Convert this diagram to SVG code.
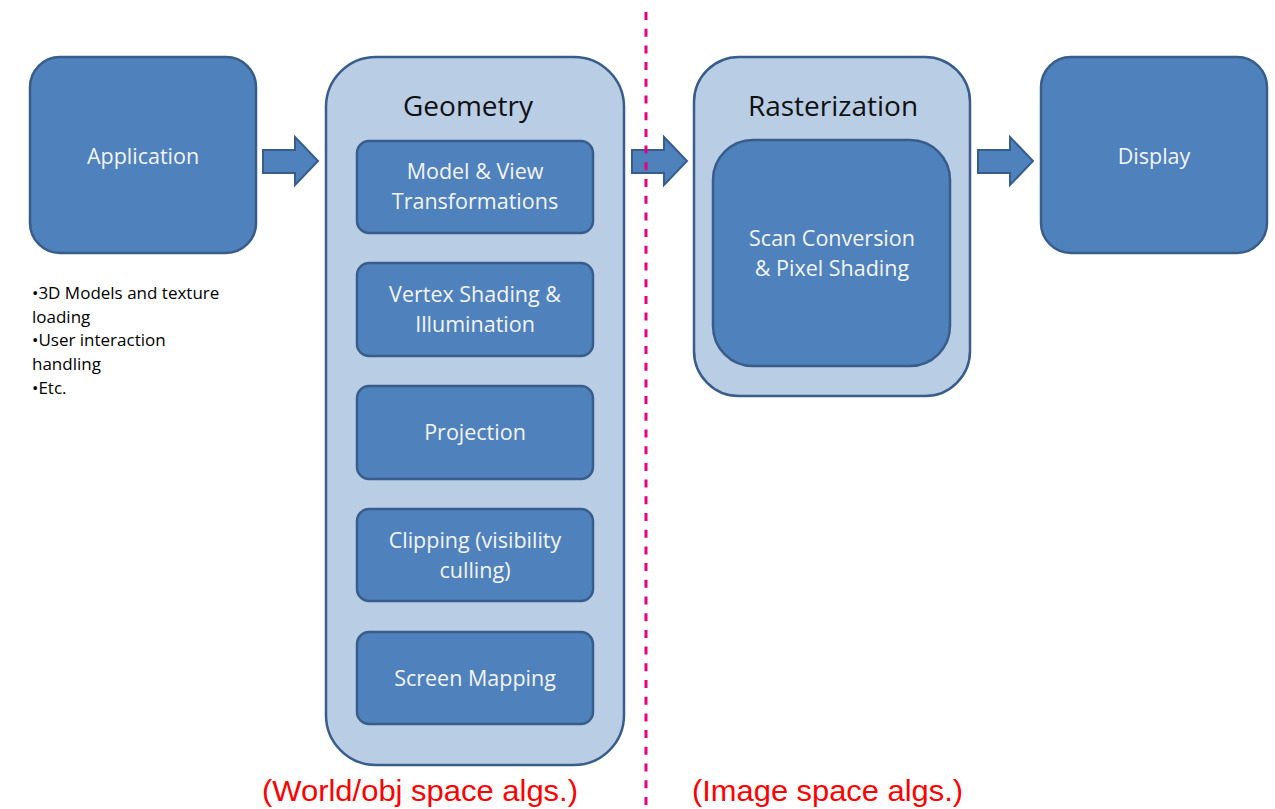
<svg xmlns="http://www.w3.org/2000/svg" width="1275" height="809" viewBox="0 0 1275 809">
<style>
.box{fill:#4f81bd;stroke:#385d8a;stroke-width:2.5}
.outer{fill:#b9cde5;stroke:#385d8a;stroke-width:2.5}
.arrow{fill:#4f81bd;stroke:#385d8a;stroke-width:2}
.wt{fill:#f4f4f4;font-family:"Open Sans",sans-serif;font-size:21.5px;text-anchor:middle}
.title{fill:#111;font-family:"Open Sans",sans-serif;font-size:28px;text-anchor:middle}
.note{fill:#000;font-family:"Open Sans",sans-serif;font-size:17px}
.red{fill:#ff0000;font-family:"Liberation Sans",sans-serif;font-size:30px}
</style>
<rect width="1275" height="809" fill="#fff"/>
<g id="application">
<rect class="box" x="30" y="57" width="226" height="196" rx="30"/>
<text class="wt" x="143" y="164">Application</text>
</g>
<g id="app-notes">
<text class="note" x="32" y="299">•3D Models and texture</text>
<text class="note" x="32" y="323">loading</text>
<text class="note" x="32" y="346">•User interaction</text>
<text class="note" x="32" y="370">handling</text>
<text class="note" x="32" y="394">•Etc.</text>
</g>
<g id="geometry">
<rect class="outer" x="326" y="57" width="298" height="708" rx="50"/>
<text class="title" x="468" y="116">Geometry</text>
</g>
<g id="model-view">
<rect class="box" x="357" y="141" width="236" height="92" rx="12"/>
<text class="wt" x="475" y="179">Model &amp; View</text>
<text class="wt" x="475" y="209">Transformations</text>
</g>
<g id="vertex-shading">
<rect class="box" x="357" y="263" width="236" height="93" rx="12"/>
<text class="wt" x="475" y="302">Vertex Shading &amp;</text>
<text class="wt" x="475" y="332">Illumination</text>
</g>
<g id="projection">
<rect class="box" x="357" y="386" width="236" height="93" rx="12"/>
<text class="wt" x="475" y="440">Projection</text>
</g>
<g id="clipping">
<rect class="box" x="357" y="509" width="236" height="92" rx="12"/>
<text class="wt" x="475" y="548">Clipping (visibility</text>
<text class="wt" x="475" y="578">culling)</text>
</g>
<g id="screen-mapping">
<rect class="box" x="357" y="632" width="236" height="92" rx="12"/>
<text class="wt" x="475" y="686">Screen Mapping</text>
</g>
<g id="rasterization">
<rect class="outer" x="694" y="57" width="276" height="339" rx="45"/>
<text class="title" x="833" y="116">Rasterization</text>
</g>
<g id="scan-conversion">
<rect class="box" x="713" y="140" width="237" height="226" rx="40"/>
<text class="wt" x="832" y="246">Scan Conversion</text>
<text class="wt" x="832" y="276">&amp; Pixel Shading</text>
</g>
<g id="display">
<rect class="box" x="1041" y="57" width="226" height="196" rx="30"/>
<text class="wt" x="1154" y="164">Display</text>
</g>
<g id="connectors">
<polygon class="arrow" points="263,150 295,150 295,137 318,161 295,185 295,173 263,173"/>
<polygon class="arrow" points="632,150 664,150 664,137 687,161 664,185 664,173 632,173"/>
<polygon class="arrow" points="978,150 1010,150 1010,137 1033,161 1010,185 1010,173 978,173"/>
<line x1="646" y1="12" x2="646" y2="809" stroke="#e6007e" stroke-width="3" stroke-dasharray="8,8.7"/>
</g>
<g id="labels">
<text class="red" x="262" y="801" textLength="316" lengthAdjust="spacingAndGlyphs">(World/obj space algs.)</text>
<text class="red" x="692" y="801" textLength="271" lengthAdjust="spacingAndGlyphs">(Image space algs.)</text>
</g>
</svg>
